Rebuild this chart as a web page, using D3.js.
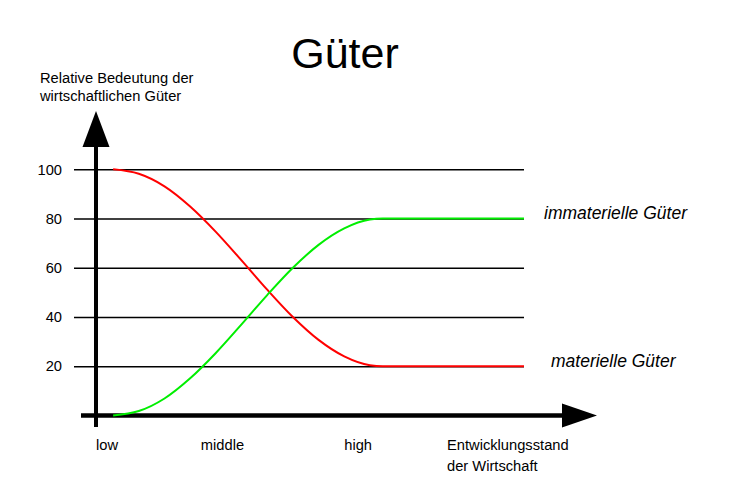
<!DOCTYPE html>
<html>
<head>
<meta charset="utf-8">
<script src="https://cdn.jsdelivr.net/npm/d3@7/dist/d3.min.js"></script>
<style>
  html, body { margin: 0; padding: 0; background: #fff; }
  svg { display: block; }
  text { font-family: "Liberation Sans", Arial, Helvetica, sans-serif; fill: #000; }
</style>
</head>
<body>
<svg id="chart" width="730" height="498"></svg>
<script>
// ---- data ----
const title = "Güter";
const yTicks = [20, 40, 60, 80, 100];
const xCategories = ["low", "middle", "high"];
const xCategoryPos = [0, 24.5, 58];          // development level (0..100)
const xAxisTitle = ["Entwicklungsstand", "der Wirtschaft"];
const yAxisTitle = ["Relative Bedeutung der", "wirtschaftlichen Güter"];
const development = [4, 10, 16, 22, 28, 34, 40, 46, 52, 58, 64, 67, 100];
const materielle   = [100, 98.2, 93.1, 84.9, 74.6, 63.0, 51.1, 40.0, 30.7, 24.0, 20.4, 20, 20];
const immaterielle = [0, 1.8, 6.9, 15.1, 25.4, 37.0, 48.9, 60.0, 69.3, 76.0, 79.6, 80, 80];
const seriesNames = ["materielle Güter", "immaterielle Güter"];

// ---- scales ----
const svg = d3.select("#chart");
const x = d3.scaleLinear().domain([0, 100]).range([96, 524]);
const y = d3.scaleLinear().domain([0, 100]).range([415.5, 169.3]);

// title
svg.append("text").attr("x", 345).attr("y", 68).attr("text-anchor", "middle")
  .style("font-size", "43px").text(title);

// gridlines + y tick labels
const gridLeft = 74;
const yAxis = d3.axisLeft(y).tickValues(yTicks).tickSize(-(x.range()[1] - gridLeft)).tickPadding(12).tickFormat(d3.format("d"));
const gy = svg.append("g").attr("transform", `translate(${gridLeft},0)`).call(yAxis);
gy.select(".domain").remove();
gy.selectAll(".tick line").attr("stroke", "#000").attr("stroke-width", 1.4);
gy.selectAll(".tick text").style("font-size", "14.7px").attr("fill", "#000")
  .style("font-family", "'Liberation Sans', Arial, sans-serif");

// axes with arrows
const x0 = x(0), y0 = y(0);
svg.append("line").attr("x1", x0).attr("x2", x0).attr("y1", 427).attr("y2", 146)
  .attr("stroke", "#000").attr("stroke-width", 4);
svg.append("path").attr("d", `M${x0},111 L${x0 - 13.5},147 L${x0 + 13.5},147 Z`).attr("fill", "#000");
svg.append("line").attr("x1", 81).attr("x2", 563).attr("y1", y0).attr("y2", y0)
  .attr("stroke", "#000").attr("stroke-width", 4.5);
svg.append("path").attr("d", `M597,${y0} L562,${y0 - 12} L562,${y0 + 12} Z`).attr("fill", "#000");

// x category labels
svg.selectAll("text.xcat").data(xCategories).enter().append("text")
  .attr("class", "xcat").attr("x", (d, i) => x(xCategoryPos[i])).attr("y", 450)
  .style("font-size", "14.7px").text(d => d);
svg.selectAll("text.xtitle").data(xAxisTitle).enter().append("text")
  .attr("class", "xtitle").attr("x", 447).attr("y", (d, i) => 450 + i * 21)
  .style("font-size", "14.7px").text(d => d);
svg.selectAll("text.ytitle").data(yAxisTitle).enter().append("text")
  .attr("class", "ytitle").attr("x", 40).attr("y", (d, i) => 83 + i * 18)
  .style("font-size", "14.7px").text(d => d);

// lines
const line = d3.line().x(d => x(d[0])).y(d => y(d[1])).curve(d3.curveMonotoneX);
svg.append("path").datum(development.map((d, i) => [d, materielle[i]]))
  .attr("d", line).attr("fill", "none").attr("stroke", "#ff0000").attr("stroke-width", 2);
svg.append("path").datum(development.map((d, i) => [d, immaterielle[i]]))
  .attr("d", line).attr("fill", "none").attr("stroke", "#00ee00").attr("stroke-width", 2);

// series labels
svg.append("text").attr("x", 551).attr("y", 367).style("font-size", "17.5px")
  .style("font-style", "italic").text(seriesNames[0]);
svg.append("text").attr("x", 544).attr("y", 219).style("font-size", "17.5px")
  .style("font-style", "italic").text(seriesNames[1]);
</script>
</body>
</html>
